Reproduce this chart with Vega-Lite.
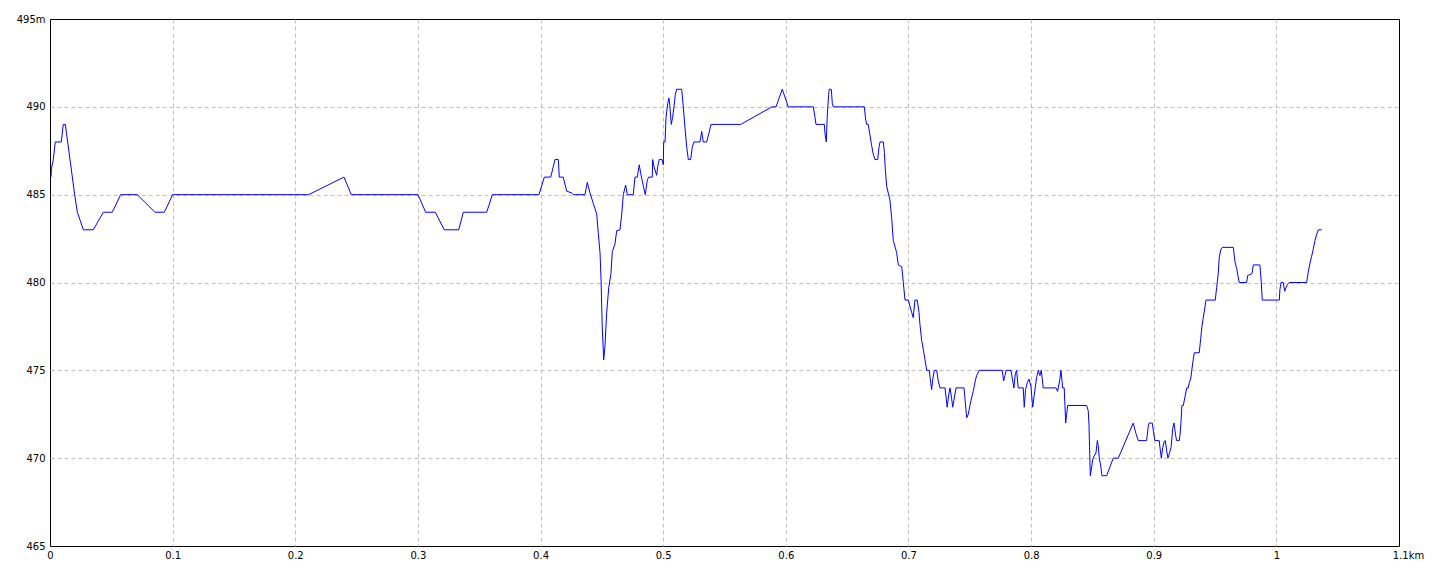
{
  "$schema": "https://vega.github.io/schema/vega-lite/v6.json",
  "width": 1349,
  "height": 527,
  "autosize": {"type": "none"},
  "padding": {"left": 50, "top": 19, "right": 41, "bottom": 30},
  "background": "white",
  "config": {
    "view": {"stroke": "black", "strokeWidth": 1},
    "axis": {"labelFont": "DejaVu Sans", "labelFontSize": 10, "labelColor": "black", "ticks": false, "domain": false, "grid": true, "gridColor": "#c0c0c0", "gridDash": [4, 3], "gridWidth": 1, "title": null}
  },
  "data": {"values": [
    {"d":0.0008,"e":486.0},{"d":0.0012,"e":486.5},{"d":0.0027,"e":487},{"d":0.0043,"e":488},{"d":0.0092,"e":488},{"d":0.0108,"e":489},{"d":0.0125,"e":489},{"d":0.0201,"e":485},{"d":0.0223,"e":484},{"d":0.0272,"e":483},{"d":0.0353,"e":483},{"d":0.0435,"e":484},{"d":0.0508,"e":484},{"d":0.0576,"e":485},{"d":0.0712,"e":485},{"d":0.0856,"e":484},{"d":0.0932,"e":484},{"d":0.1000,"e":485},{"d":0.2109,"e":485},{"d":0.2397,"e":486},{"d":0.2457,"e":485},{"d":0.3001,"e":485},{"d":0.3063,"e":484},{"d":0.3142,"e":484},{"d":0.3215,"e":483},{"d":0.3333,"e":483},{"d":0.3370,"e":484},{"d":0.3561,"e":484},{"d":0.3607,"e":485},{"d":0.3987,"e":485},{"d":0.4031,"e":486},{"d":0.4083,"e":486},{"d":0.4118,"e":487},{"d":0.4145,"e":487},{"d":0.4153,"e":486},{"d":0.4185,"e":486},{"d":0.4213,"e":485.2},{"d":0.4254,"e":485.1},{"d":0.4267,"e":485},{"d":0.4362,"e":485},{"d":0.4381,"e":485.7},{"d":0.4403,"e":485.1},{"d":0.4430,"e":484.5},{"d":0.4458,"e":483.9},{"d":0.4471,"e":482.8},{"d":0.4485,"e":481.7},{"d":0.4493,"e":480.2},{"d":0.4503,"e":477.5},{"d":0.4515,"e":475.6},{"d":0.4525,"e":476.35},{"d":0.4539,"e":478.25},{"d":0.4556,"e":479.7},{"d":0.4574,"e":480.5},{"d":0.4585,"e":481.75},{"d":0.4607,"e":482.2},{"d":0.4621,"e":482.95},{"d":0.4648,"e":483},{"d":0.4662,"e":483.9},{"d":0.4675,"e":485},{"d":0.4694,"e":485.55},{"d":0.4707,"e":485},{"d":0.4756,"e":485},{"d":0.4770,"e":486},{"d":0.4789,"e":486},{"d":0.4805,"e":486.7},{"d":0.4817,"e":486.2},{"d":0.4838,"e":485.5},{"d":0.4854,"e":485},{"d":0.4871,"e":485.85},{"d":0.4882,"e":486},{"d":0.4911,"e":486},{"d":0.4914,"e":487},{"d":0.4925,"e":486.6},{"d":0.4947,"e":486.1},{"d":0.4955,"e":486.6},{"d":0.4968,"e":487},{"d":0.4990,"e":487},{"d":0.5001,"e":486.7},{"d":0.5004,"e":488},{"d":0.5015,"e":488},{"d":0.5023,"e":489.4},{"d":0.5037,"e":490.2},{"d":0.5047,"e":490.5},{"d":0.5055,"e":490},{"d":0.5066,"e":489},{"d":0.5077,"e":489.4},{"d":0.5088,"e":490},{"d":0.5099,"e":490.7},{"d":0.5110,"e":491},{"d":0.5151,"e":491},{"d":0.5164,"e":490},{"d":0.5178,"e":488.8},{"d":0.5192,"e":487.7},{"d":0.5205,"e":487},{"d":0.5224,"e":487},{"d":0.5237,"e":487.7},{"d":0.5251,"e":488},{"d":0.5300,"e":488},{"d":0.5314,"e":488.6},{"d":0.5327,"e":488},{"d":0.5355,"e":488},{"d":0.5373,"e":488.5},{"d":0.5390,"e":489},{"d":0.5632,"e":489},{"d":0.5887,"e":490},{"d":0.5920,"e":490},{"d":0.5971,"e":491},{"d":0.6020,"e":490},{"d":0.6224,"e":490},{"d":0.6238,"e":489.4},{"d":0.6246,"e":489},{"d":0.6314,"e":489},{"d":0.6319,"e":488.5},{"d":0.6330,"e":488},{"d":0.6338,"e":489.5},{"d":0.6349,"e":490.7},{"d":0.6354,"e":491},{"d":0.6371,"e":491},{"d":0.6379,"e":490.2},{"d":0.6387,"e":490},{"d":0.6640,"e":490},{"d":0.6651,"e":489.3},{"d":0.6659,"e":489},{"d":0.6672,"e":489},{"d":0.6686,"e":488.4},{"d":0.6700,"e":487.8},{"d":0.6713,"e":487.3},{"d":0.6727,"e":487},{"d":0.6749,"e":487},{"d":0.6760,"e":487.7},{"d":0.6768,"e":488},{"d":0.6795,"e":488},{"d":0.6804,"e":487.4},{"d":0.6811,"e":486.5},{"d":0.6822,"e":485.5},{"d":0.6835,"e":485.1},{"d":0.6849,"e":484.7},{"d":0.6863,"e":483.7},{"d":0.6876,"e":482.4},{"d":0.6904,"e":481.7},{"d":0.6917,"e":481},{"d":0.6945,"e":480.9},{"d":0.6958,"e":480},{"d":0.6972,"e":479},{"d":0.6999,"e":479},{"d":0.7026,"e":478.3},{"d":0.7039,"e":478},{"d":0.7053,"e":479},{"d":0.7072,"e":479},{"d":0.7086,"e":478.3},{"d":0.7094,"e":477.6},{"d":0.7108,"e":476.7},{"d":0.7121,"e":476.2},{"d":0.7135,"e":475.6},{"d":0.7149,"e":475},{"d":0.7170,"e":475},{"d":0.7181,"e":474.3},{"d":0.7189,"e":473.9},{"d":0.7198,"e":474.5},{"d":0.7211,"e":475},{"d":0.7230,"e":475},{"d":0.7243,"e":474.4},{"d":0.7257,"e":474},{"d":0.7298,"e":474},{"d":0.7316,"e":472.9},{"d":0.7328,"e":473.6},{"d":0.7339,"e":474},{"d":0.7352,"e":473.4},{"d":0.7361,"e":472.9},{"d":0.7371,"e":473.3},{"d":0.7388,"e":474},{"d":0.7453,"e":474},{"d":0.7463,"e":473.2},{"d":0.7475,"e":472.3},{"d":0.7488,"e":472.5},{"d":0.7507,"e":473.2},{"d":0.7528,"e":473.8},{"d":0.7545,"e":474.4},{"d":0.7556,"e":474.7},{"d":0.7577,"e":475},{"d":0.7765,"e":475},{"d":0.7776,"e":474.4},{"d":0.7787,"e":474.7},{"d":0.7797,"e":475},{"d":0.7836,"e":475},{"d":0.7850,"e":474.4},{"d":0.7860,"e":474},{"d":0.7871,"e":474.8},{"d":0.7882,"e":475},{"d":0.7895,"e":474},{"d":0.7936,"e":474},{"d":0.7944,"e":472.9},{"d":0.7955,"e":473.9},{"d":0.7969,"e":474.3},{"d":0.7983,"e":474.5},{"d":0.7999,"e":474.1},{"d":0.8013,"e":472.9},{"d":0.8026,"e":473.6},{"d":0.8045,"e":474.6},{"d":0.8059,"e":475},{"d":0.8072,"e":474.7},{"d":0.8083,"e":475},{"d":0.8099,"e":474},{"d":0.8203,"e":474},{"d":0.8216,"e":473.8},{"d":0.8235,"e":474.5},{"d":0.8243,"e":475},{"d":0.8251,"e":474.5},{"d":0.8257,"e":474},{"d":0.8270,"e":474},{"d":0.8276,"e":473},{"d":0.8282,"e":472},{"d":0.8290,"e":472.5},{"d":0.8298,"e":473},{"d":0.8453,"e":473},{"d":0.8466,"e":472.7},{"d":0.8472,"e":471.9},{"d":0.8477,"e":470.6},{"d":0.8483,"e":469},{"d":0.8494,"e":469.5},{"d":0.8502,"e":469.9},{"d":0.8513,"e":470.1},{"d":0.8529,"e":470.3},{"d":0.8540,"e":471},{"d":0.8548,"e":470.7},{"d":0.8556,"e":470},{"d":0.8567,"e":469.6},{"d":0.8578,"e":469},{"d":0.8616,"e":469},{"d":0.8670,"e":470},{"d":0.8711,"e":470},{"d":0.8833,"e":472},{"d":0.8855,"e":471.4},{"d":0.8874,"e":471},{"d":0.8942,"e":471},{"d":0.8955,"e":471.8},{"d":0.8963,"e":472},{"d":0.8988,"e":472},{"d":0.9002,"e":471.3},{"d":0.9010,"e":471},{"d":0.9045,"e":471},{"d":0.9051,"e":470.6},{"d":0.9062,"e":470},{"d":0.9073,"e":470.6},{"d":0.9084,"e":470.9},{"d":0.9094,"e":471},{"d":0.9106,"e":470.4},{"d":0.9116,"e":470},{"d":0.9127,"e":470.25},{"d":0.9141,"e":470.6},{"d":0.9149,"e":471.2},{"d":0.9155,"e":471.7},{"d":0.9165,"e":472},{"d":0.9173,"e":471.6},{"d":0.9181,"e":471.2},{"d":0.9187,"e":471},{"d":0.9208,"e":471},{"d":0.9214,"e":471.3},{"d":0.9222,"e":472},{"d":0.9230,"e":473},{"d":0.9241,"e":473},{"d":0.9255,"e":473.5},{"d":0.9269,"e":474},{"d":0.9282,"e":474},{"d":0.9290,"e":474.3},{"d":0.9301,"e":474.5},{"d":0.9310,"e":475},{"d":0.9322,"e":475.6},{"d":0.9331,"e":476},{"d":0.9371,"e":476},{"d":0.9383,"e":476.8},{"d":0.9393,"e":477.5},{"d":0.9404,"e":478},{"d":0.9418,"e":478.6},{"d":0.9426,"e":479},{"d":0.9502,"e":479},{"d":0.9513,"e":479.7},{"d":0.9526,"e":480.5},{"d":0.9534,"e":481.4},{"d":0.9546,"e":481.85},{"d":0.9559,"e":482},{"d":0.9649,"e":482},{"d":0.9662,"e":481.2},{"d":0.9676,"e":480.8},{"d":0.9689,"e":480.3},{"d":0.9697,"e":480},{"d":0.9758,"e":480},{"d":0.9766,"e":480.4},{"d":0.9801,"e":480.5},{"d":0.9812,"e":481},{"d":0.9866,"e":481},{"d":0.9877,"e":480},{"d":0.9885,"e":479},{"d":1.0024,"e":479},{"d":1.0029,"e":479.6},{"d":1.0038,"e":480},{"d":1.0056,"e":480},{"d":1.0068,"e":479.5},{"d":1.0078,"e":479.7},{"d":1.0092,"e":479.9},{"d":1.0105,"e":480},{"d":1.0247,"e":480},{"d":1.0260,"e":480.6},{"d":1.0274,"e":481.1},{"d":1.0288,"e":481.5},{"d":1.0301,"e":481.9},{"d":1.0315,"e":482.4},{"d":1.0329,"e":482.75},{"d":1.0342,"e":483},{"d":1.0369,"e":483}
  ]},
  "mark": {"type": "line", "color": "#0000ff", "strokeWidth": 1, "interpolate": "linear"},
  "encoding": {
    "x": {"field": "d", "type": "quantitative", "scale": {"domain": [0, 1.1], "nice": false, "zero": false},
      "axis": {"values": [0, 0.1, 0.2, 0.3, 0.4, 0.5, 0.6, 0.7, 0.8, 0.9, 1, 1.1], "labelExpr": "datum.value >= 1.09 ? '1.1km' : format(datum.value, '~g')", "labelPadding": 4, "labelOffset": {"condition": {"test": "datum.value >= 1.09", "value": 9}, "value": 0}, "labelFlush": false, "gridOpacity": {"condition": {"test": "datum.value <= 0.001 || datum.value >= 1.09", "value": 0}, "value": 1}}},
    "y": {"field": "e", "type": "quantitative", "scale": {"domain": [465, 495], "nice": false, "zero": false},
      "axis": {"values": [465, 470, 475, 480, 485, 490, 495], "labelExpr": "datum.value >= 495 ? '495m' : datum.label", "labelPadding": 5, "labelFlush": false, "gridOpacity": {"condition": {"test": "datum.value <= 465 || datum.value >= 495", "value": 0}, "value": 1}}}
  }
}
